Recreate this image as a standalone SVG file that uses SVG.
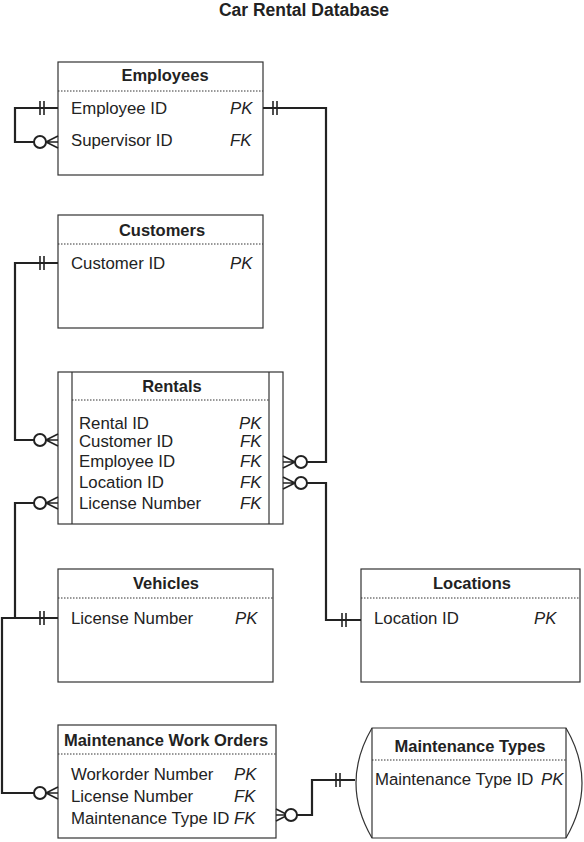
<svg xmlns="http://www.w3.org/2000/svg" width="584" height="842" viewBox="0 0 584 842">
<style>
text{font-family:"Liberation Sans",Arial,sans-serif;fill:#222}
.t{font-size:16.5px;font-weight:bold;text-anchor:middle}
.r{font-size:16.8px}
.k{font-size:16.8px;font-style:italic}
.box{fill:#fff;stroke:#333;stroke-width:1.2}
.dot{stroke:#333;stroke-width:1;stroke-dasharray:1.5 1.5}
.c{fill:none;stroke:#222;stroke-width:2.2}
.o{fill:#fff;stroke:#222;stroke-width:2}
.f{fill:none;stroke:#222;stroke-width:1.6}
</style>
<rect width="584" height="842" fill="#fff"/>
<text x="304" y="16" class="t" style="font-size:17.5px">Car Rental Database</text>

<g id="employees">
<rect class="box" x="58" y="62" width="205" height="113"/>
<text class="t" x="165" y="81">Employees</text>
<line class="dot" x1="58" y1="91" x2="263" y2="91"/>
<text class="r" x="71" y="114">Employee ID</text><text class="k" x="230" y="114">PK</text>
<text class="r" x="71" y="146">Supervisor ID</text><text class="k" x="230" y="146">FK</text>
</g>
<g id="customers">
<rect class="box" x="58" y="215" width="205" height="113"/>
<text class="t" x="162" y="236">Customers</text>
<line class="dot" x1="58" y1="244" x2="263" y2="244"/>
<text class="r" x="71" y="269">Customer ID</text><text class="k" x="230" y="269">PK</text>
</g>
<g id="rentals">
<rect class="box" x="58" y="372" width="225" height="152"/>
<line class="box" x1="72" y1="372" x2="72" y2="524"/>
<line class="box" x1="269" y1="372" x2="269" y2="524"/>
<text class="t" x="172" y="392">Rentals</text>
<line class="dot" x1="72" y1="400" x2="269" y2="400"/>
<text class="r" x="79" y="429">Rental ID</text><text class="k" x="239" y="429">PK</text>
<text class="r" x="79" y="447">Customer ID</text><text class="k" x="240" y="447">FK</text>
<text class="r" x="79" y="467">Employee ID</text><text class="k" x="240" y="467">FK</text>
<text class="r" x="79" y="488">Location ID</text><text class="k" x="240" y="488">FK</text>
<text class="r" x="79" y="509">License Number</text><text class="k" x="240" y="509">FK</text>
</g>
<g id="vehicles">
<rect class="box" x="58" y="569" width="215" height="113"/>
<text class="t" x="166" y="589">Vehicles</text>
<line class="dot" x1="58" y1="598" x2="273" y2="598"/>
<text class="r" x="71" y="624">License Number</text><text class="k" x="235" y="624">PK</text>
</g>
<g id="locations">
<rect class="box" x="361" y="569" width="219" height="113"/>
<text class="t" x="472" y="589">Locations</text>
<line class="dot" x1="361" y1="598" x2="580" y2="598"/>
<text class="r" x="374" y="624">Location ID</text><text class="k" x="534" y="624">PK</text>
</g>
<g id="mwo">
<rect class="box" x="58" y="725" width="218" height="113"/>
<text class="t" x="166" y="746">Maintenance Work Orders</text>
<line class="dot" x1="58" y1="754" x2="276" y2="754"/>
<text class="r" x="71" y="780">Workorder Number</text><text class="k" x="234" y="780">PK</text>
<text class="r" x="71" y="802">License Number</text><text class="k" x="234" y="802">FK</text>
<text class="r" x="71" y="824">Maintenance Type ID</text><text class="k" x="234" y="824">FK</text>
</g>
<g id="mtypes">
<path class="box" d="M372 728 H566 Q598 783 566 838 H372 Q340 783 372 728 Z"/>
<line class="box" x1="372" y1="728" x2="372" y2="838"/>
<line class="box" x1="566" y1="728" x2="566" y2="838"/>
<text class="t" x="470" y="752">Maintenance Types</text>
<line class="dot" x1="372" y1="760" x2="566" y2="760"/>
<text class="r" x="375" y="785">Maintenance Type ID</text><text class="k" x="541" y="785">PK</text>
</g>

<g id="connectors">
<path class="c" d="M58 108 H15 V142 H34"/>
<line class="f" x1="40" y1="101" x2="40" y2="115"/><line class="f" x1="44" y1="101" x2="44" y2="115"/>
<path class="f" d="M46 142 L58 136 M46 142 L58 148 M46 142 H58"/>
<circle class="o" cx="40" cy="142" r="6"/>
<path class="c" d="M263 108 H326 V462 H307"/>
<line class="f" x1="273" y1="101" x2="273" y2="115"/><line class="f" x1="277" y1="101" x2="277" y2="115"/>
<path class="f" d="M295 462 L283 456 M295 462 L283 468 M295 462 H283"/>
<circle class="o" cx="301" cy="462" r="6"/>
<path class="c" d="M58 263 H15 V440 H34"/>
<line class="f" x1="40" y1="256" x2="40" y2="270"/><line class="f" x1="44" y1="256" x2="44" y2="270"/>
<path class="f" d="M46 440 L58 434 M46 440 L58 446 M46 440 H58"/>
<circle class="o" cx="40" cy="440" r="6"/>
<path class="c" d="M361 620 H326 V483 H307"/>
<line class="f" x1="342" y1="613" x2="342" y2="627"/><line class="f" x1="346" y1="613" x2="346" y2="627"/>
<path class="f" d="M295 483 L283 477 M295 483 L283 489 M295 483 H283"/>
<circle class="o" cx="301" cy="483" r="6"/>
<path class="c" d="M34 503 H15 V618 H58"/>
<path class="f" d="M46 503 L58 497 M46 503 L58 509 M46 503 H58"/>
<circle class="o" cx="40" cy="503" r="6"/>
<line class="f" x1="40" y1="611" x2="40" y2="625"/><line class="f" x1="44" y1="611" x2="44" y2="625"/>
<path class="c" d="M15 618 H2 V793 H34"/>
<path class="f" d="M46 793 L58 787 M46 793 L58 799 M46 793 H58"/>
<circle class="o" cx="40" cy="793" r="6"/>
<path class="c" d="M355 780 H312 V815 H296"/>
<line class="f" x1="336" y1="773" x2="336" y2="787"/><line class="f" x1="340" y1="773" x2="340" y2="787"/>
<path class="f" d="M288 815 L276 809 M288 815 L276 821 M288 815 H276"/>
<circle class="o" cx="291" cy="815" r="6"/>
</g>
</svg>
